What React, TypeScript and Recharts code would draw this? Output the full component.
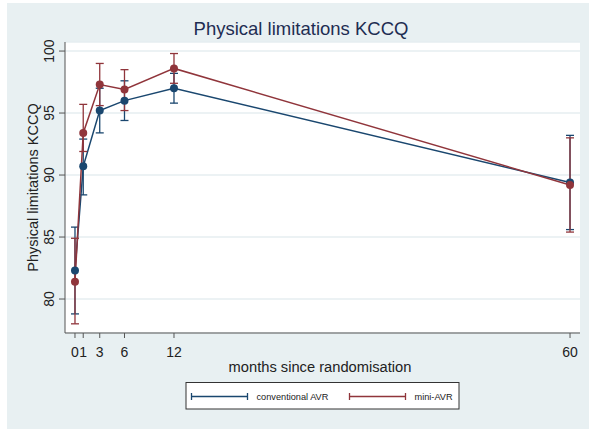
import {
  ComposedChart,
  Line,
  ErrorBar,
  XAxis,
  YAxis,
  CartesianGrid,
  Label,
} from "recharts";

const months = [0, 1, 3, 6, 12, 60];
const monthTicks = [0, 1, 3, 6, 12, 60];
const scoreTicks = [80, 85, 90, 95, 100];

const convMean = [82.3, 90.7, 95.2, 96.0, 97.0, 89.4];
const convLow = [78.8, 88.4, 93.4, 94.4, 95.8, 85.6];
const convHigh = [85.8, 92.9, 97.0, 97.6, 98.2, 93.2];

const miniMean = [81.4, 93.4, 97.3, 96.9, 98.6, 89.2];
const miniLow = [78.0, 91.9, 95.6, 95.2, 97.4, 85.4];
const miniHigh = [84.9, 95.7, 99.0, 98.5, 99.8, 93.0];

const seriesNames = ["conventional AVR", "mini-AVR"];

const BLUE = "#1a476f";
const RED = "#90353b";
const FONT = "'Liberation Sans', Arial, sans-serif";

const data = months.map((m, i) => ({
  month: m,
  conv: convMean[i],
  convErr: [convMean[i] - convLow[i], convHigh[i] - convMean[i]],
  mini: miniMean[i],
  miniErr: [miniMean[i] - miniLow[i], miniHigh[i] - miniMean[i]],
}));

function YTick(props: any) {
  const { y, payload } = props;
  return (
    <text
      x={54}
      y={y}
      transform={`rotate(-90, 54, ${y})`}
      textAnchor="middle"
      fontSize={14}
      fontFamily={FONT}
      fill="#222"
    >
      {payload.value}
    </text>
  );
}

function XTick(props: any) {
  const { x, payload } = props;
  return (
    <text x={x} y={356.5} textAnchor="middle" fontSize={14} fontFamily={FONT} fill="#222">
      {payload.value}
    </text>
  );
}

function LegendItem({ x, color, name }: { x: number; color: string; name: string }) {
  return (
    <g>
      <line x1={x} y1={396.5} x2={x + 56} y2={396.5} stroke={color} strokeWidth={1.3} />
      <line x1={x} y1={393} x2={x} y2={400} stroke={color} strokeWidth={1.3} />
      <line x1={x + 56} y1={393} x2={x + 56} y2={400} stroke={color} strokeWidth={1.3} />
      <text x={x + 65} y={399.5} fontSize={9.2} fontFamily={FONT} fill="#222">
        {name}
      </text>
    </g>
  );
}

export default function App() {
  return (
    <div style={{ position: "absolute", left: 0, top: 0, width: 589, height: 429, background: "#fff" }}>
      <div
        style={{ position: "absolute", left: 7, top: 3, width: 582, height: 426, background: "#e8f0f2" }}
      />
      <div style={{ position: "absolute", left: 0, top: 0 }}>
        <ComposedChart
          width={589}
          height={429}
          data={data}
          margin={{ top: 42, right: 9, bottom: 56, left: 0 }}
        >
          <CartesianGrid vertical={false} stroke="#e6eef1" strokeWidth={1.5} fill="#ffffff" />
          <XAxis
            dataKey="month"
            type="number"
            domain={[-1.21, 61.21]}
            ticks={monthTicks}
            interval={0}
            allowDataOverflow
            height={40}
            tick={<XTick />}
            tickSize={5}
            axisLine={{ stroke: "#555", strokeWidth: 1 }}
            tickLine={{ stroke: "#555" }}
          >
            <Label
              content={() => (
                <text x={320} y={371.5} textAnchor="middle" fontSize={14.7} fontFamily={FONT} fill="#222">
                  months since randomisation
                </text>
              )}
            />
          </XAxis>
          <YAxis
            type="number"
            domain={[77.26, 100.73]}
            ticks={scoreTicks}
            interval={0}
            allowDataOverflow
            width={65}
            tick={<YTick />}
            tickSize={6}
            axisLine={{ stroke: "#555", strokeWidth: 1 }}
            tickLine={{ stroke: "#555" }}
          >
            <Label
              content={() => (
                <text
                  x={38}
                  y={187.5}
                  transform="rotate(-90, 38, 187.5)"
                  textAnchor="middle"
                  fontSize={14.5}
                  fontFamily={FONT}
                  fill="#222"
                >
                  Physical limitations KCCQ
                </text>
              )}
            />
          </YAxis>
          <Line
            dataKey="conv"
            stroke={BLUE}
            strokeWidth={1.5}
            dot={{ r: 4, fill: BLUE, stroke: BLUE, strokeWidth: 0 }}
            isAnimationActive={false}
          >
            <ErrorBar dataKey="convErr" direction="y" width={4} stroke={BLUE} strokeWidth={1.3} isAnimationActive={false} />
          </Line>
          <Line
            dataKey="mini"
            stroke={RED}
            strokeWidth={1.5}
            dot={{ r: 4, fill: RED, stroke: RED, strokeWidth: 0 }}
            isAnimationActive={false}
          >
            <ErrorBar dataKey="miniErr" direction="y" width={4} stroke={RED} strokeWidth={1.3} isAnimationActive={false} />
          </Line>
        </ComposedChart>
      </div>
      <svg
        width={589}
        height={429}
        style={{ position: "absolute", left: 0, top: 0, pointerEvents: "none" }}
      >
        <text x={301} y={35} textAnchor="middle" fontSize={18.5} fontFamily={FONT} fill="#1e2d52">
          Physical limitations KCCQ
        </text>
        <rect x={186} y={382.5} width={273} height={26.5} fill="#fff" stroke="#333" strokeWidth={1} />
        <LegendItem x={191.5} color={BLUE} name={seriesNames[0]} />
        <LegendItem x={349.5} color={RED} name={seriesNames[1]} />
      </svg>
    </div>
  );
}
